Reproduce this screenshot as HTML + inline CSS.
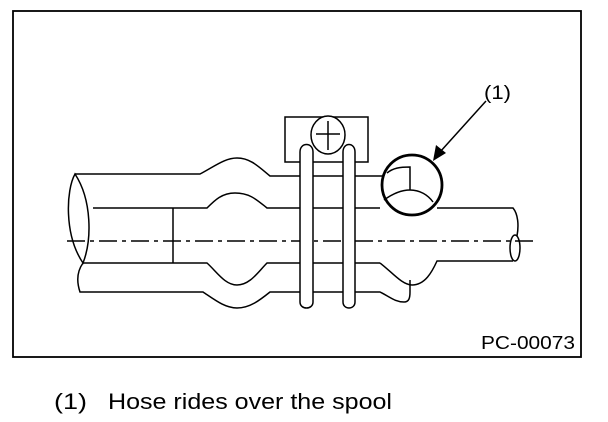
<!DOCTYPE html>
<html><head><meta charset="utf-8"><style>
html,body{margin:0;padding:0;background:#fff;width:608px;height:422px;overflow:hidden}
svg{display:block}
text{font-family:"Liberation Sans",Arial,sans-serif;fill:#000}
</style></head><body>
<svg width="608" height="422" viewBox="0 0 608 422" xmlns="http://www.w3.org/2000/svg">
<rect x="13" y="11" width="568" height="346" fill="none" stroke="#000" stroke-width="1.8"/>
<g fill="none" stroke="#000" stroke-width="1.5">
<path d="M75 174 H200 C215 166 225 158 237 158 C250 158 258 166 270 176 H382"/>
<path d="M93 208 H207 C215 200 222 193 235 193 C250 193 257 200 267 208 H380"/>
<path d="M437 208 H513 C518 214 519 225 517 236"/>
<path d="M380 263 C392 272 402 285 412 285 C425 285 432 272 437 261 H513"/>
<ellipse cx="515" cy="248" rx="5" ry="13"/>
<path d="M83 263 H207 C217 272 225 285 237 285 C250 285 258 272 267 263 H380"/>
<path d="M83 263 C78 270 76 280 80 292 H203 C215 300 225 308 237 308 C250 308 260 300 270 292 H380 C390 297 395 302 404 302 C409 302 410 298 410 292 V280"/>
<path d="M75 174 C66 190 64 235 83 263 C92 240 92 200 75 174 Z"/>
<line x1="173" y1="208" x2="173" y2="263"/>
<path d="M67 241 H537" stroke-dasharray="18 5 4 5"/>
<rect x="285" y="117" width="83" height="45" fill="#fff"/>
<path d="M300 152 C300 142 313 142 313 152 V302 C313 310 300 310 300 302 Z" fill="#fff"/>
<path d="M343 152 C343 142 355 142 355 152 V302 C355 310 343 310 343 302 Z" fill="#fff"/>
<ellipse cx="328" cy="135" rx="17" ry="19" fill="#fff"/>
<line x1="316" y1="134" x2="340" y2="134"/>
<line x1="328" y1="121" x2="328" y2="150"/>
<path d="M387 173 C393 168 400 167 410 167 V190"/>
<path d="M384 200 C395 192 403 190 410 190 C420 190 428 195 433 202"/>
<circle cx="412" cy="185" r="30" stroke-width="2.8"/>
<line x1="486" y1="101" x2="440" y2="152"/>
</g>
<polygon points="433,161 436,145 446,153" fill="#000"/>
<text x="484" y="99" font-size="19" textLength="27" lengthAdjust="spacingAndGlyphs">(1)</text>
<text x="481" y="349" font-size="18" textLength="94" lengthAdjust="spacingAndGlyphs">PC-00073</text>
<text x="54" y="409" font-size="22" textLength="33" lengthAdjust="spacingAndGlyphs">(1)</text>
<text x="108" y="409" font-size="22" textLength="284" lengthAdjust="spacingAndGlyphs">Hose rides over the spool</text>
</svg>
</body></html>
